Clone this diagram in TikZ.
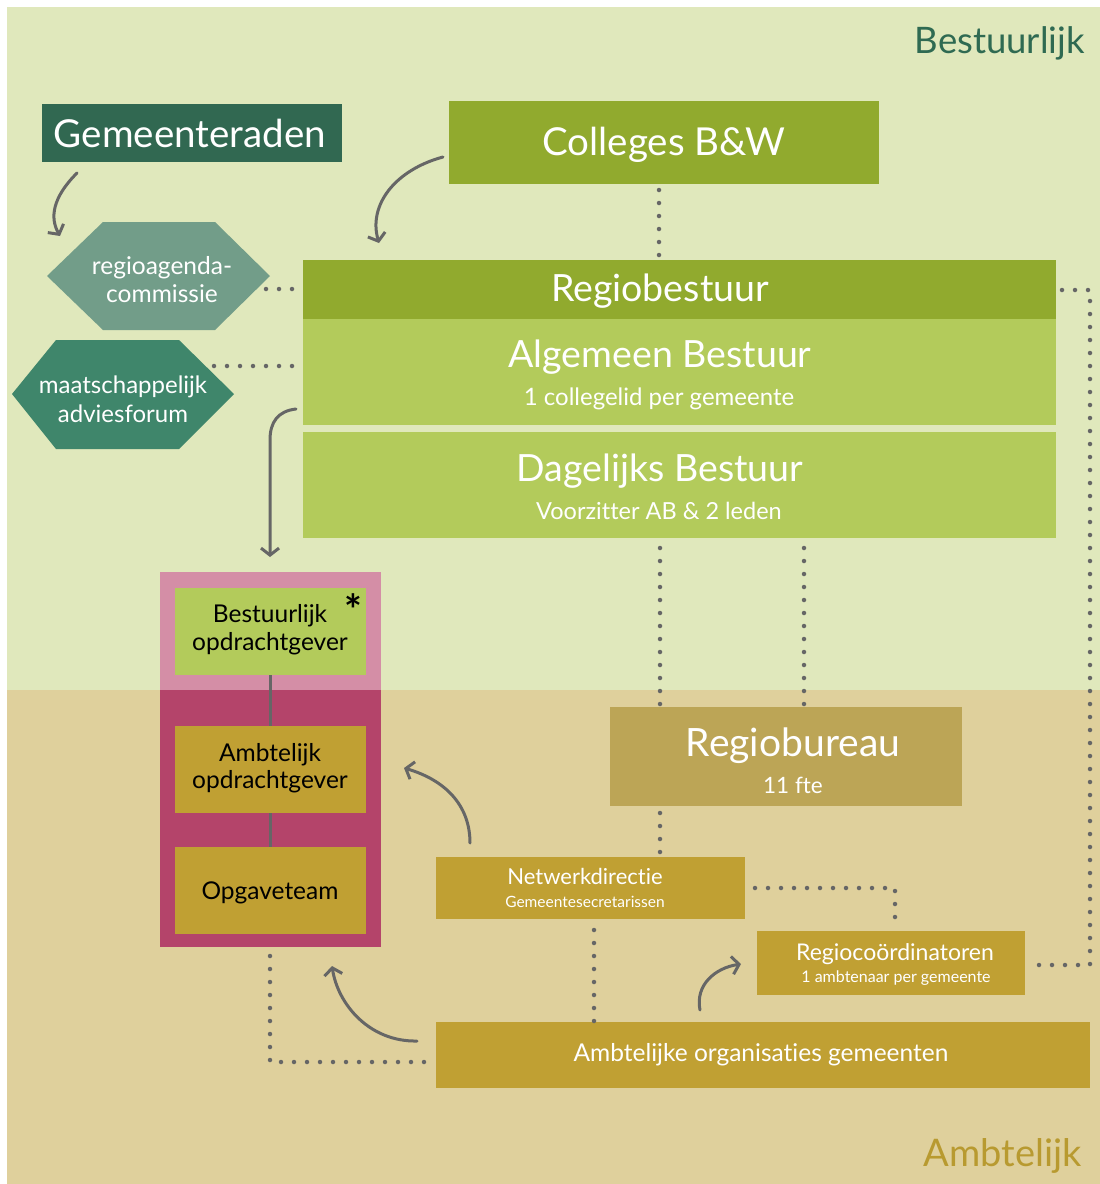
\documentclass[tikz,border=0pt]{standalone}
\usepackage{fontspec}
\setmainfont[Ligatures=NoCommon]{Lato}
\usetikzlibrary{arrows.meta}
\definecolor{bgG}{HTML}{E0E8BC}
\definecolor{bgT}{HTML}{DFD09C}
\definecolor{dkG}{HTML}{316851}
\definecolor{olG}{HTML}{91AA2E}
\definecolor{ltG}{HTML}{B3CB5B}
\definecolor{hexA}{HTML}{729D89}
\definecolor{hexB}{HTML}{3F866B}
\definecolor{ochre}{HTML}{C0A033}
\definecolor{bureau}{HTML}{BCA556}
\definecolor{pinkL}{HTML}{D48EA6}
\definecolor{pinkD}{HTML}{B4446A}
\definecolor{conn}{HTML}{666666}
\definecolor{lblG}{HTML}{2F6A52}
\definecolor{lblA}{HTML}{B89A30}
\newcommand{\fs}[1]{\fontsize{#1}{#1}\selectfont}
\begin{document}
\begin{tikzpicture}[x=1pt,y=-1pt,
  box/.style={inner sep=0pt, outer sep=0pt, anchor=north west},
  dots/.style={draw=conn, line width=4.5pt, line cap=round, dash pattern=on 0pt off 13pt},
  arr/.style={draw=conn, line width=3pt, line cap=round, -{Straight Barb[length=7pt,width=18pt]}},
  link/.style={draw=conn, line width=3pt},
  wt/.style={text=white, inner sep=0pt, anchor=base},
  bt/.style={text=black, inner sep=0pt, anchor=base},
]
\useasboundingbox (0,0) rectangle (1100,1184);
\fill[white] (0,0) rectangle (1100,1184);
\fill[bgG] (7,7) rectangle (1100,690);
\fill[bgT] (7,690) rectangle (1100,1184);

% region labels
\node[inner sep=0pt, anchor=base east, text=lblG, font=\fs{36.5}] (lblB) at (1085,53) {Bestuurlijk};
\node[inner sep=0pt, anchor=base east, text=lblA, font=\fs{38}] (lblAm) at (1082,1166) {Ambtelijk};

% top boxes
\node[box, fill=dkG, minimum width=300pt, minimum height=58pt] (gem) at (42,104) {};
\node[wt, font=\fs{38.5}] (gemT) at (190,147) {Gemeenteraden};
\node[box, fill=olG, minimum width=430pt, minimum height=83pt] (col) at (449,101) {};
\node[wt, font=\fs{38.5}] (colT) at (664,155) {Colleges B\&W};

% hexagons
\fill[hexA] (47,276) -- (103,222) -- (215,222) -- (270,276) -- (215,330) -- (103,330) -- cycle;
\node[wt, font=\fs{24.5}] (raT1) at (162,274) {regioagenda-};
\node[wt, font=\fs{24.5}] (raT2) at (162,302) {commissie};
\coordinate (raOut) at (266,289);
\fill[hexB] (12,394) -- (56,340) -- (179,340) -- (234,394) -- (179,449) -- (56,449) -- cycle;
\node[wt, font=\fs{24}] (maT1) at (123,393) {maatschappelijk};
\node[wt, font=\fs{24}] (maT2) at (123,422) {adviesforum};
\coordinate (maOut) at (214,366);

% regiobestuur stack
\node[box, fill=olG, minimum width=753pt, minimum height=59pt] (rb) at (303,260) {};
\node[wt, font=\fs{37.5}] (rbT) at (660,301) {Regiobestuur};
\node[box, fill=ltG, minimum width=753pt, minimum height=106pt] (ab) at (303,319) {};
\node[wt, font=\fs{37.5}] (abT) at (660,367) {Algemeen Bestuur};
\node[wt, font=\fs{24}] (abS) at (659,405) {1 collegelid per gemeente};
\node[box, fill=ltG, minimum width=753pt, minimum height=106pt] (db) at (303,432) {};
\node[wt, font=\fs{37.5}] (dbT) at (660,481) {Dagelijks Bestuur};
\node[wt, font=\fs{23.5}] (dbS) at (659,519) {Voorzitter AB \& 2 leden};

% pink container
\fill[pinkL] (160,572) rectangle (381,690);
\fill[pinkD] (160,690) rectangle (381,947);
\node[box, minimum width=221pt, minimum height=375pt] (pink) at (160,572) {};
\node[box, fill=ltG, minimum width=191pt, minimum height=87pt] (bo) at (175,588) {};
\node[bt, font=\fs{24.5}] (boT1) at (270,622) {Bestuurlijk};
\node[bt, font=\fs{24.5}] (boT2) at (270,650) {opdrachtgever};
\node[inner sep=0pt, font=\fs{42}\bfseries] (star) at (353,610) {*};
\node[box, fill=ochre, minimum width=191pt, minimum height=87pt] (ao) at (175,726) {};
\node[bt, font=\fs{24.5}] (aoT1) at (270,761) {Ambtelijk};
\node[bt, font=\fs{24.5}] (aoT2) at (270,788) {opdrachtgever};
\node[box, fill=ochre, minimum width=191pt, minimum height=87pt] (og) at (175,847) {};
\node[bt, font=\fs{24.5}] (ogT) at (270,899) {Opgaveteam};
\draw[link] (bo.south) -- (ao.north);
\draw[link] (ao.south) -- (og.north);

% lower boxes
\node[box, fill=bureau, minimum width=352pt, minimum height=99pt] (bur) at (610,707) {};
\node[wt, font=\fs{39}] (burT) at (793,756) {Regiobureau};
\node[wt, font=\fs{22.5}] (burS) at (793,793) {11 fte};
\node[box, fill=ochre, minimum width=309pt, minimum height=62pt] (nd) at (436,857) {};
\node[wt, font=\fs{22}] (ndT) at (585,884) {Netwerkdirectie};
\node[wt, font=\fs{15.5}] (ndS) at (585,907) {Gemeentesecretarissen};
\node[box, fill=ochre, minimum width=268pt, minimum height=64pt] (rc) at (757,931) {};
\node[wt, font=\fs{23}] (rcT) at (895,960) {Regiocoördinatoren};
\node[wt, font=\fs{16}] (rcS) at (896,982) {1 ambtenaar per gemeente};
\node[box, fill=ochre, minimum width=654pt, minimum height=66pt] (aog) at (436,1022) {};
\node[wt, font=\fs{24.5}] (aogT) at (761,1061) {Ambtelijke organisaties gemeenten};

% dotted connectors
\draw[dots] (659,190) -- (659,256);
\draw[dots] (raOut) -- (293,289);
\draw[dots] (maOut) -- (293,366);
\draw[dots] (1062,290) -- (1090,290) -- (1090,965) -- (1035,965);
\draw[dots] (660,548) -- (660,707);
\draw[dots] (804,548) -- (804,707);
\draw[dots] (660,813) -- (660,856);
\draw[dots] (755,888) -- (895,888) -- (895,930);
\draw[dots] (594,930) -- (594,1022);
\draw[dots] (270,956) -- (270,1062) -- (428,1062);

% arrows
\coordinate (a1s) at (77,173); \coordinate (a1e) at (60,236);
\draw[arr] (a1s) .. controls (52,198) and (50,218) .. (a1e);
\coordinate (a2s) at (443,157); \coordinate (a2e) at (379,243);
\draw[arr] (a2s) .. controls (395,170) and (368,205) .. (a2e);
\coordinate (a3s) at (296,409); \coordinate (a3e) at (270,557);
\draw[arr] (a3s) .. controls (278,411) and (270,422) .. (270,440) -- (a3e);
\coordinate (a4s) at (470,843); \coordinate (a4e) at (404,768);
\draw[arr] (a4s) .. controls (470,805) and (445,780) .. (a4e);
\coordinate (a5s) at (700,1010); \coordinate (a5e) at (741,964);
\draw[arr] (a5s) .. controls (695,985) and (715,968) .. (a5e);
\coordinate (a6s) at (417,1041); \coordinate (a6e) at (332,966);
\draw[arr] (a6s) .. controls (370,1042) and (338,1005) .. (a6e);
\end{tikzpicture}
\end{document}
